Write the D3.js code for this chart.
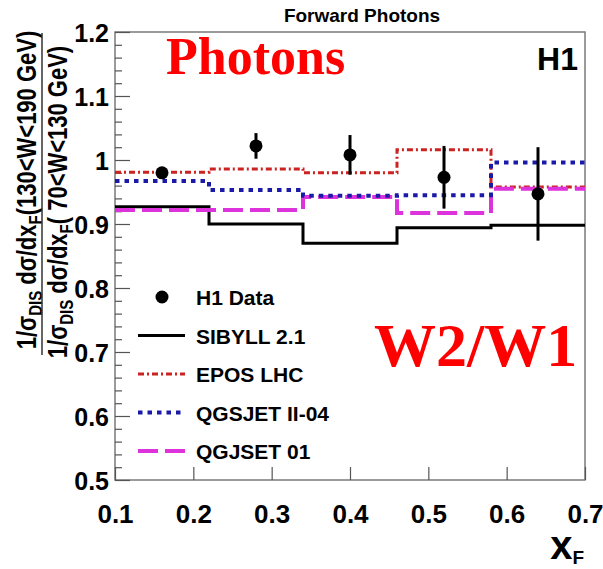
<!DOCTYPE html>
<html lang="en">
<head>
<meta charset="utf-8">
<title>Forward Photons W2/W1</title>
<script src="https://d3js.org/d3.v7.min.js"></script>
<style>
  body { margin: 0; background: #fff; }
  text { font-family: "Liberation Sans", Arial, sans-serif; font-weight: bold; }
</style>
</head>
<body>
<script>
// bin edges in x_F and the model predictions per bin
var binEdges = [0.1, 0.22, 0.34, 0.46, 0.58, 0.7];
var sibyll   = [0.927, 0.900, 0.870, 0.894, 0.898];
var epos     = [0.981, 0.986, 0.980, 1.016, 0.958];
var qgsjet01 = [0.922, 0.922, 0.942, 0.917, 0.955];
var qgsjet2  = [0.967, 0.953, 0.944, 0.945, 0.996];

// H1 data points
var dataX   = [0.16, 0.28, 0.40, 0.52, 0.64];
var dataY   = [0.980, 1.022, 1.008, 0.973, 0.947];
var dataErr = [0.008, 0.020, 0.031, 0.049, 0.073];

var xTicks = [0.1, 0.2, 0.3, 0.4, 0.5, 0.6, 0.7];
var yTicks = [0.5, 0.6, 0.7, 0.8, 0.9, 1.0, 1.1, 1.2];
var yTickLabels = ["0.5", "0.6", "0.7", "0.8", "0.9", "1", "1.1", "1.2"];

var w = 603, h = 569;
// plot frame (note: "top" is reserved on window, so use pl/pr/pt/pb)
var pl = 115, pr = 585, pt = 32, pb = 480;

var svg = d3.select("body").append("svg")
    .attr("width", w)
    .attr("height", h);

var x = d3.scaleLinear().domain([0.1, 0.7]).range([pl, pr]);
var y = d3.scaleLinear().domain([0.5, 1.2]).range([pb, pt]);

// frame
svg.append("rect")
    .attr("x", pl).attr("y", pt)
    .attr("width", pr - pl).attr("height", pb - pt)
    .attr("fill", "none").attr("stroke", "#7a7a7a").attr("stroke-width", 1.5);

// y axis: major + minor ticks, pointing inwards
var minorY = d3.range(0.52, 1.2, 0.02).filter(function(v) {
    return Math.abs(v * 10 - Math.round(v * 10)) > 0.01;
});
svg.append("g")
    .attr("transform", "translate(" + pl + ",0)")
    .call(d3.axisLeft(y).tickValues(minorY).tickSizeInner(-7).tickSizeOuter(0).tickFormat(""))
    .call(function(g) { g.select(".domain").remove(); })
    .selectAll("line").attr("stroke", "#555").attr("stroke-width", 1.2);

var yAxis = svg.append("g")
    .attr("transform", "translate(" + pl + ",0)")
    .call(d3.axisLeft(y).tickValues(yTicks).tickSizeInner(-15).tickSizeOuter(0).tickPadding(6)
        .tickFormat(function(d, i) { return yTickLabels[i]; }));
yAxis.select(".domain").remove();
yAxis.selectAll("line").attr("stroke", "#555").attr("stroke-width", 1.2);
yAxis.selectAll("text").attr("fill", "#000").style("font-size", "25px").attr("dy", "0.36em");

// x axis
var xAxis = svg.append("g")
    .attr("transform", "translate(0," + pb + ")")
    .call(d3.axisBottom(x).tickValues(xTicks).tickSizeInner(-13).tickSizeOuter(0).tickPadding(0)
        .tickFormat(d3.format(".1f")));
xAxis.select(".domain").remove();
xAxis.selectAll("line").attr("stroke", "#555").attr("stroke-width", 1.2);
xAxis.selectAll("text").attr("fill", "#000").style("font-size", "26px").attr("y", 43).attr("dy", 0);

// step histograms for the models
var models = [
    { name: "SIBYLL 2.1",    values: sibyll,   color: "#000000", dash: null,       width: 3 },
    { name: "EPOS LHC",      values: epos,     color: "#cc2222", dash: "6,3,2,3",  width: 3 },
    { name: "QGJSET 01",     values: qgsjet01, color: "#dd33dd", dash: "20,7",     width: 4 },
    { name: "QGSJET II-04",  values: qgsjet2,  color: "#1a1aa8", dash: "4.5,5",    width: 4 }
];

var step = d3.line()
    .x(function(d) { return x(d[0]); })
    .y(function(d) { return y(d[1]); })
    .curve(d3.curveStepAfter);

models.forEach(function(m) {
    var p = binEdges.map(function(e, i) {
        return [e, m.values[Math.min(i, m.values.length - 1)]];
    });
    svg.append("path")
        .attr("d", step(p))
        .attr("fill", "none")
        .attr("stroke", m.color)
        .attr("stroke-width", m.width)
        .attr("stroke-dasharray", m.dash);
});

// data points with error bars
var pts = dataX.map(function(v, i) { return { x: v, y: dataY[i], e: dataErr[i] }; });
svg.selectAll(".err").data(pts).enter().append("line")
    .attr("x1", function(d) { return x(d.x); })
    .attr("x2", function(d) { return x(d.x); })
    .attr("y1", function(d) { return y(d.y + d.e); })
    .attr("y2", function(d) { return y(d.y - d.e); })
    .attr("stroke", "#000").attr("stroke-width", 3);
svg.selectAll(".pt").data(pts).enter().append("circle")
    .attr("cx", function(d) { return x(d.x); })
    .attr("cy", function(d) { return y(d.y); })
    .attr("r", 6.5)
    .attr("fill", "#000");

// legend
var legend = svg.append("g");
var legY0 = 297, legStep = 38.5;
legend.append("circle").attr("cx", 162).attr("cy", legY0).attr("r", 6.5).attr("fill", "#000");
legend.append("text").attr("x", 196).attr("y", legY0 + 8).style("font-size", "21px").text("H1 Data");
var legendOrder = [models[0], models[1], models[3], models[2]];
legendOrder.forEach(function(m, i) {
    var ly = legY0 + legStep * (i + 1);
    legend.append("line")
        .attr("x1", 138).attr("x2", 185).attr("y1", ly).attr("y2", ly)
        .attr("stroke", m.color).attr("stroke-width", m.width)
        .attr("stroke-dasharray", m.dash);
    legend.append("text").attr("x", 196).attr("y", ly + 8).style("font-size", "21px").text(m.name);
});

// titles and labels
svg.append("text").attr("x", 362).attr("y", 22).attr("text-anchor", "middle")
    .style("font-size", "19px").text("Forward Photons");
svg.append("text").attr("x", 578).attr("y", 70).attr("text-anchor", "end")
    .style("font-size", "32px").text("H1");
svg.append("text").attr("x", 166).attr("y", 74)
    .style("font-family", "'Liberation Serif', 'Times New Roman', serif")
    .style("font-size", "52px").attr("fill", "#ff0000").text("Photons");
svg.append("text").attr("x", 374).attr("y", 366)
    .style("font-family", "'Liberation Serif', 'Times New Roman', serif")
    .style("font-size", "62px").attr("fill", "#ff0000").text("W2/W1");

// x axis title
var xt = svg.append("text").attr("x", 584).attr("y", 559).attr("text-anchor", "end");
xt.append("tspan").style("font-size", "40px").text("x");
xt.append("tspan").style("font-size", "19px").attr("dy", 5).text("F");

// y axis title as a fraction
function yTitle(g, range) {
    var t = g.append("text").attr("text-anchor", "middle").style("font-size", "22px");
    t.append("tspan").text("1/\u03c3");
    t.append("tspan").style("font-size", "15px").attr("dy", 5).text("DIS");
    t.append("tspan").attr("dy", -5).text(" d\u03c3/dx");
    t.append("tspan").style("font-size", "15px").attr("dy", 5).text("F");
    t.append("tspan").attr("dy", -5).text("(" + range + " GeV)");
}
yTitle(svg.append("g").attr("transform", "translate(36,190) rotate(-90) scale(1,1.25)"), "130<W<190");
yTitle(svg.append("g").attr("transform", "translate(67,202) rotate(-90) scale(1,1.25)"), " 70<W<130");
svg.append("line").attr("x1", 42).attr("x2", 42).attr("y1", 33).attr("y2", 355)
    .attr("stroke", "#333").attr("stroke-width", 1.5);
</script>
</body>
</html>
